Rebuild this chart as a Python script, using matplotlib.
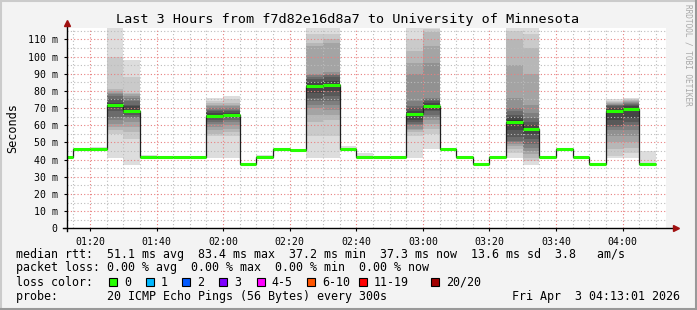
import numpy as np
import pandas as pd
import matplotlib
matplotlib.use("Agg")
import matplotlib.pyplot as plt
from matplotlib.lines import Line2D
from matplotlib.patches import Rectangle
from matplotlib.ticker import MultipleLocator, FuncFormatter

W, H, DPI = 697, 310, 100
MONO = "DejaVu Sans Mono"

# 5 minute rounds (start of each round), 01:10 .. 04:05
rounds = pd.date_range("2026-04-03 01:10", "2026-04-03 04:05", freq="5min")

# median rtt per round, ms
median_ms = [41.7, 46.3, 46.3, 71.8, 68.4, 41.7, 41.7, 41.7, 41.7, 65.4,
             66.1, 37.2, 41.7, 46.3, 45.6, 82.8, 83.4, 46.3, 41.7, 41.7,
             41.7, 66.5, 71.2, 46.3, 41.7, 37.4, 41.7, 61.9, 58.0, 41.7,
             46.3, 41.7, 37.4, 68.5, 69.3, 37.3]

# slowest ping per round (only used for the quiet rounds)
max_ms = [41.7, 46.3, 47.5, 0, 0, 42.5, 41.7, 41.7, 41.7, 0,
          0, 37.2, 42.5, 46.3, 46.3, 0, 0, 48.2, 43.6, 41.7,
          41.7, 0, 0, 46.3, 41.7, 37.4, 41.7, 0, 0, 41.7,
          46.3, 41.7, 37.4, 0, 0, 45.2]

# all 20 pings (sorted) for the rounds with visible smoke
smoke_pings = {
    3: [41, 55, 57, 59, 61, 63, 65, 68, 70, 71.5, 72, 73, 75, 77, 78, 79, 80, 81, 100, 118],
    4: [37, 52, 56, 59, 62, 64, 65, 66, 67, 68, 69, 71, 72, 74, 76, 77, 78, 79, 88, 98],
    9: [41, 54, 55, 57, 59, 61, 62, 63, 64, 65, 66, 67, 68, 69, 70, 71, 72, 73, 74, 76],
    10: [41, 54, 56, 58, 60, 62, 63, 64, 65, 66, 66.5, 67, 68, 69, 70, 71, 72, 73, 75, 77],
    15: [41, 54, 62, 66, 70, 72, 74, 76, 79, 82, 83.5, 85, 87, 88, 89, 90, 106, 108, 113, 118],
    16: [41, 54, 63, 66, 69, 72, 74, 77, 80, 83, 84, 86, 88, 89, 90, 91, 108, 110, 113, 120],
    21: [41, 54, 56, 57, 58, 60, 61, 62, 63, 66, 67, 68, 70, 71, 74, 90, 96, 103, 110, 118],
    22: [46, 55, 58, 61, 63, 65, 66, 68, 69, 71, 72, 73, 74, 75, 76, 96, 106, 114, 116, 120],
    27: [41, 44, 46, 48, 49, 50, 51, 53, 57, 61, 63, 65, 66, 68, 70, 76, 95, 110, 115, 118],
    28: [37, 39, 41, 43, 45, 47, 49, 52, 55, 57.5, 58.5, 60, 62, 64, 67, 72, 90, 105, 113, 118],
    33: [41, 42, 46, 50, 54, 57, 59, 60, 63, 67, 69, 70, 71, 71.5, 72, 72.5, 73, 73.5, 74, 75.5],
    34: [41, 44, 47, 50, 54, 57, 60, 62, 64, 68, 70, 71, 72, 72.5, 73, 73.5, 74, 74.5, 75, 76],
}

loss_labels = ["0", "1", "2", "3", "4-5", "6-10", "11-19", "20/20"]
loss_colors = ["#26ff00", "#00b8ff", "#0059ff", "#7e00ff",
               "#ff00ff", "#ff5500", "#ff0000", "#a10000"]

title = "Last 3 Hours from f7d82e16d8a7 to University of Minnesota"
stats_rtt = "median rtt:  51.1 ms avg  83.4 ms max  37.2 ms min  37.3 ms now  13.6 ms sd  3.8   am/s"
stats_loss = "packet loss: 0.00 % avg  0.00 % max  0.00 % min  0.00 % now"
probe_txt = "probe:       20 ICMP Echo Pings (56 Bytes) every 300s"
stamp = "Fri Apr  3 04:13:01 2026"


def fx(px):
    return px / W


def fy(py):
    return 1 - py / H


x_start = np.array([t.hour * 60 + t.minute for t in rounds], dtype=float)
x_edges = np.append(x_start, x_start[-1] + 5)
t0 = 73 + 1 / 60  # 01:13:01
t1 = t0 + 180

fig = plt.figure(figsize=(W / DPI, H / DPI), dpi=DPI, facecolor="#f3f3f3")
ax = fig.add_axes([fx(66.7), fy(228.3), fx(666.0) - fx(66.7), fy(28) - fy(228.3)])
ax.set_facecolor("white")
ax.set_xlim(t0, t1)
ax.set_ylim(0, 116.6)

# smoke: outer pairs light, inner pairs dark
shades = ["#%02x%02x%02x" % (c, c, c) for c in (221 - 19 * np.arange(10))]
for i, left in enumerate(x_start):
    if i in smoke_pings:
        p = sorted(smoke_pings[i])
        for b in range(10):
            ax.bar(left, p[19 - b] - p[b], bottom=p[b], width=5, align="edge",
                   color=shades[b], linewidth=0, zorder=1)
    elif max_ms[i] > median_ms[i]:
        ax.bar(left, max_ms[i] - median_ms[i], bottom=median_ms[i], width=5,
               align="edge", color=shades[0], linewidth=0, zorder=1)

# grid
for v in np.arange(5, 116, 5):
    major = v % 10 == 0
    ax.axhline(v, color="#e88080" if major else "#bcbcbc", lw=0.8,
               ls=(0, (1, 2)), zorder=2)
for v in np.arange(75, 253, 5):
    major = v % 20 == 0
    ax.axvline(v, color="#e88080" if major else "#bcbcbc", lw=0.8,
               ls=(0, (1, 2)), zorder=2)

# median line
ax.stairs(median_ms, x_edges, baseline=None, color="#202020", lw=0.9, zorder=3)
ax.hlines(median_ms, x_start, x_start + 5, color=loss_colors[0], lw=2.2, zorder=4)

for s in ax.spines.values():
    s.set_visible(False)
ax.xaxis.set_major_locator(MultipleLocator(20))
ax.xaxis.set_major_formatter(FuncFormatter(lambda v, _: "%02d:%02d" % (v // 60, v % 60)))
ax.yaxis.set_major_locator(MultipleLocator(10))
ax.yaxis.set_major_formatter(FuncFormatter(lambda v, _: "0" if v == 0 else "%d m" % v))
ax.tick_params(axis="both", labelsize=7.1, length=2.5, width=0.8, color="black")
for lab in ax.get_xticklabels() + ax.get_yticklabels():
    lab.set_family(MONO)
ax.tick_params(axis="x", pad=4)
ax.tick_params(axis="y", pad=4)
ax.set_ylabel("Seconds", family=MONO, fontsize=8.6, labelpad=6)

# axis lines with arrows
fig.add_artist(Line2D([fx(62.5), fx(674)], [fy(228.3), fy(228.3)],
                      color="black", lw=1.0, transform=fig.transFigure))
fig.add_artist(Line2D([fx(66.7), fx(66.7)], [fy(231), fy(24)],
                      color="black", lw=1.0, transform=fig.transFigure))
fig.add_artist(Line2D([fx(676)], [fy(228.3)], marker=">", ms=4.5, color="#a01010",
                      transform=fig.transFigure))
fig.add_artist(Line2D([fx(66.7)], [fy(23)], marker="^", ms=4.5, color="#a01010",
                      transform=fig.transFigure))

fig.text(fx(348), fy(19), title, family=MONO, fontsize=9.7, ha="center", va="center")
fig.text(fx(688), fy(4), "RRDTOOL / TOBI OETIKER", family=MONO, fontsize=5.6,
         color="#a8a8a8", rotation=270, ha="center", va="top")

# legend block
fs = 8.35
fig.text(fx(16), fy(254.3), stats_rtt, family=MONO, fontsize=fs, va="center")
fig.text(fx(16), fy(267.7), stats_loss, family=MONO, fontsize=fs, va="center")
fig.text(fx(16), fy(282.3), "loss color:", family=MONO, fontsize=fs, va="center")
box_x = [109, 145.7, 182.3, 219.3, 256.7, 307.3, 358.7, 430.7]
for bx, lab, col in zip(box_x, loss_labels, loss_colors):
    fig.add_artist(Rectangle((fx(bx), fy(286.3)), fx(8), 8 / H, facecolor=col,
                             edgecolor="black", lw=0.8, transform=fig.transFigure))
    fig.text(fx(bx + 15), fy(282.3), lab, family=MONO, fontsize=fs, va="center")
fig.text(fx(16), fy(296.7), probe_txt, family=MONO, fontsize=fs, va="center")
fig.text(fx(680), fy(296.7), stamp, family=MONO, fontsize=fs, va="center", ha="right")

# 3d frame
fig.add_artist(Line2D([0, 1], [fy(1), fy(1)], color="#cbcbcb", lw=1.5, transform=fig.transFigure))
fig.add_artist(Line2D([fx(1), fx(1)], [0, 1], color="#cbcbcb", lw=1.5, transform=fig.transFigure))
fig.add_artist(Line2D([0, 1], [fy(309), fy(309)], color="#999999", lw=1.5, transform=fig.transFigure))
fig.add_artist(Line2D([fx(696), fx(696)], [0, 1], color="#999999", lw=1.5, transform=fig.transFigure))

fig.savefig("out.png", dpi=DPI, facecolor=fig.get_facecolor())
